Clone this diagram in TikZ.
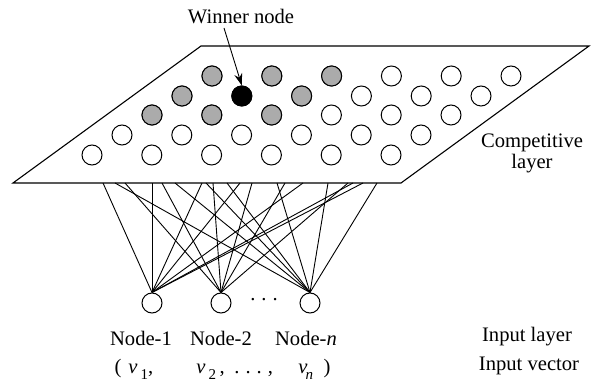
\documentclass[tikz,border=0pt]{standalone}
\usepackage{fontspec}
\setmainfont{Liberation Serif}
\usetikzlibrary{arrows.meta}
\newcommand{\vsub}[1]{\textit{v}\hspace{1.6pt}\raisebox{-3pt}{\fontsize{7.5}{8}\selectfont #1}}
\begin{document}
\begin{tikzpicture}[x=0.5pt,y=-0.5pt,
  every node/.style={font=\fontsize{10.3}{12}\selectfont},
  unit/.style={circle,draw,line width=0.5pt,minimum size=10pt,inner sep=0pt},
  hat/.style={unit,fill=black!33},
  win/.style={unit,fill=black},
  link/.style={line width=0.45pt},
  txt/.style={inner sep=0pt}]
\useasboundingbox (0,0) rectangle (593,384);
% competitive layer plane
\draw[line width=0.55pt] (13,183) -- (401,183) -- (589,46) -- (201,46) -- cycle;
% grid of units
\foreach \r/\y/\xo in {1/76/212,2/96/182,3/115/152,4/135/122,5/155/92}{
  \foreach \k in {0,...,5}{
    \node[unit] (c\r-\k) at ({\xo+59.8*\k},\y) {};
  }
}
\node[hat] at (c1-0) {};
\node[hat] at (c1-1) {};
\node[hat] at (c1-2) {};
\node[hat] at (c2-0) {};
\node[win] (winner) at (c2-1) {};
\node[hat] at (c2-2) {};
\node[hat] at (c3-0) {};
\node[hat] at (c3-1) {};
\node[hat] at (c3-2) {};
% winner label
\node[txt] (wl) at (241,17) {Winner node};
\coordinate (ws) at (224,28);
\draw[line width=0.45pt,-{Stealth[length=6pt,width=4pt]}] (ws) -- (winner.north);
\node[txt] (cl1) at (532,143) {Competitive};
\node[txt] (cl2) at (532,164) {layer};
% input nodes
\node[unit] (i1) at (152,303) {};
\node[unit] (i2) at (221,303) {};
\node[unit] (in) at (310,303) {};
\node[txt] (dots) at (264,300) {.\hspace{3pt}.\hspace{3pt}.};
% top points on bottom edge
\foreach \x in {103,152,202,240,303,353,363}{
  \coordinate (t) at (\x,183);
  \draw[link] (i1.north) -- (t);
}
\foreach \x in {125,162,213,252,285,348}{
  \coordinate (t) at (\x,183);
  \draw[link] (i2.north) -- (t);
}
\foreach \x in {115,175,206,227,277,328,377}{
  \coordinate (t) at (\x,183);
  \draw[link] (in.north) -- (t);
}
% labels
\node[txt] (l1) at (141,338) {Node-1};
\node[txt] (l2) at (221,338) {Node-2};
\node[txt] (ln) at (306,338) {Node-\textit{n}};
\node[txt] (il) at (527,337) {Input layer};
\node[txt] (iv) at (529,366) {Input vector};
\node[txt,anchor=base] (p1) at (118,373) {(};
\node[txt,anchor=base west] (v1) at (128,373) {\vsub{1},};
\node[txt,anchor=base west] (v2) at (196,373) {\vsub{2}\,,};
\node[txt,anchor=base west] (vd) at (234,373) {.\hspace{3pt}.\hspace{3pt}.\hspace{3pt},};
\node[txt,anchor=base west] (vn) at (298,373) {\textit{v}\hspace{-1pt}\raisebox{-3pt}{\fontsize{7.5}{8}\selectfont\textit{n}}};
\node[txt,anchor=base] (p2) at (327,373) {)};
\end{tikzpicture}
\end{document}
